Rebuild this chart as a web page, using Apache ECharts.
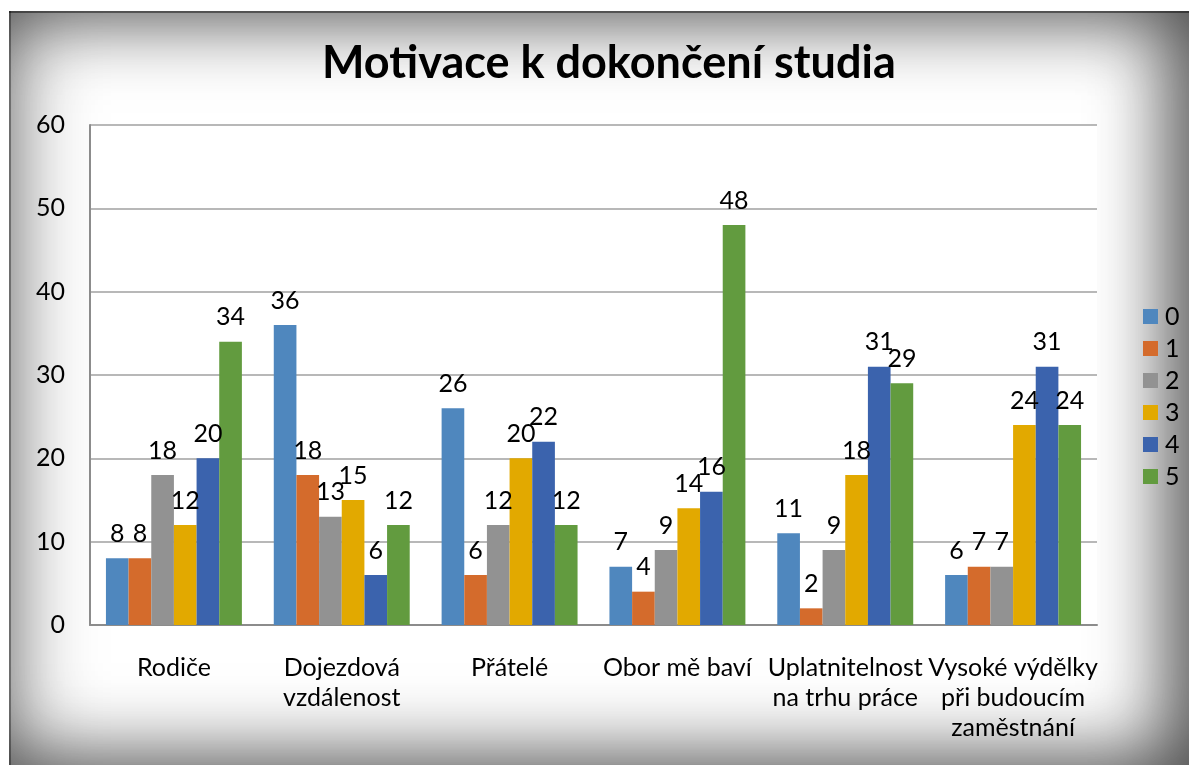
<!DOCTYPE html>
<html>
<head>
<meta charset="utf-8">
<script src="https://cdn.jsdelivr.net/npm/echarts@6/dist/echarts.min.js"></script>
<style>
    html, body { margin: 0; padding: 0; background: #fff; }
    #frame {
        position: absolute; left: 9px; top: 11px; width: 1180px; height: 754px;
        background: #fff;
        box-shadow: inset 0 0 85px rgba(0,0,0,0.6), inset -30px 0 70px rgba(0,0,0,0.35), inset 0 2px 0 rgba(0,0,0,0.45), inset 2px 0 0 rgba(0,0,0,0.35);
    }
    #main { position: absolute; left: 0; top: 0; width: 1189px; height: 769px; }
</style>
</head>
<body>
<div id="frame"></div>
<div id="main"></div>
<script>
// chart data
const categories = ['Rodiče', 'Dojezdová\nvzdálenost', 'Přátelé', 'Obor mě baví', 'Uplatnitelnost\nna trhu práce', 'Vysoké výdělky\npři budoucím\nzaměstnání'];
const seriesNames = ['0', '1', '2', '3', '4', '5'];
const values0 = [8, 36, 26, 7, 11, 6];
const values1 = [8, 18, 6, 4, 2, 7];
const values2 = [18, 13, 12, 9, 9, 7];
const values3 = [12, 15, 20, 14, 18, 24];
const values4 = [20, 6, 22, 16, 31, 31];
const values5 = [34, 12, 12, 48, 29, 24];
const yTicks = [0, 10, 20, 30, 40, 50, 60];

const colors = ['#4F87BE', '#D46B2C', '#929292', '#E2A900', '#3B63AD', '#629B3F'];
const allValues = [values0, values1, values2, values3, values4, values5];
const font = 'Lato, "Open Sans", sans-serif';

function displayChart() {
    var myChart = echarts.init(document.getElementById('main'));
    var option = {
        animation: false,
        color: colors,
        title: {
            text: 'Motivace k dokončení studia',
            left: 317,
            top: 36,
            textStyle: { fontFamily: font, fontSize: 45, fontWeight: 'bold', color: '#000' }
        },
        legend: {
            orient: 'vertical',
            left: 1138,
            top: 299,
            itemWidth: 15,
            itemHeight: 15,
            itemGap: 7,
            icon: 'rect',
            textStyle: { fontFamily: font, fontSize: 25, color: '#000', padding: [0, 0, 0, 2] },
            data: seriesNames
        },
        grid: {
            left: 90, right: 92, top: 125, bottom: 144,
            show: true, backgroundColor: '#fff', borderWidth: 0
        },
        xAxis: {
            type: 'category',
            data: categories,
            axisLine: { lineStyle: { color: '#8c8c8c', width: 2 } },
            axisTick: { show: false },
            axisLabel: { fontFamily: font, fontSize: 25, color: '#000', margin: 28, lineHeight: 30, interval: 0 }
        },
        yAxis: {
            type: 'value',
            min: yTicks[0],
            max: yTicks[yTicks.length - 1],
            interval: 10,
            axisLine: { show: true, lineStyle: { color: '#8c8c8c', width: 2 } },
            axisTick: { show: false },
            splitLine: { lineStyle: { color: '#a0a0a0', width: 1.5 } },
            axisLabel: { fontFamily: font, fontSize: 25, color: '#000', margin: 25 }
        },
        series: seriesNames.map(function (name, i) {
            return {
                name: name,
                type: 'bar',
                data: allValues[i],
                barGap: '0%',
                barCategoryGap: '19%',
                label: { show: true, position: 'top', distance: 12, fontFamily: font, fontSize: 25, color: '#000' }
            };
        })
    };
    myChart.setOption(option);
}
displayChart();
</script>
</body>
</html>
